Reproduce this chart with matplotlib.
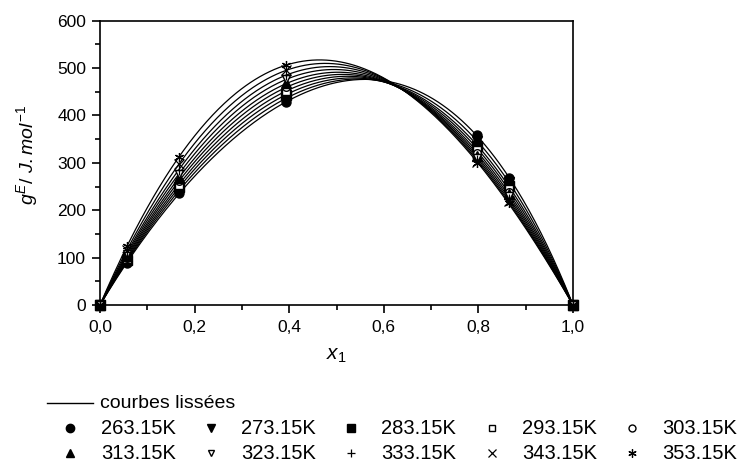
import numpy as np
import matplotlib
matplotlib.use("Agg")
import matplotlib.pyplot as plt
from matplotlib.lines import Line2D
from matplotlib.ticker import MultipleLocator, FuncFormatter

plt.rcParams['font.family'] = ['Liberation Sans', 'DejaVu Sans']
plt.rcParams['mathtext.fontset'] = 'custom'
plt.rcParams['mathtext.rm'] = 'Liberation Sans'
plt.rcParams['mathtext.it'] = 'Liberation Sans:italic'

# Mole fraction of component 1 where g^E was measured
x1 = [0.0, 0.057, 0.167, 0.393, 0.797, 0.865, 1.0]

temperatures = ['263.15K', '273.15K', '283.15K', '293.15K', '303.15K',
                '313.15K', '323.15K', '333.15K', '343.15K', '353.15K']

# Excess Gibbs energy g^E (J/mol) at each temperature
gE_263 = [0, 88, 236, 428, 358, 268, 0]
gE_273 = [0, 91, 242, 436, 346, 259, 0]
gE_283 = [0, 94, 248, 444, 336, 251, 0]
gE_293 = [0, 97, 254, 452, 328, 245, 0]
gE_303 = [0, 100, 261, 460, 321, 239, 0]
gE_313 = [0, 103, 268, 468, 315, 234, 0]
gE_323 = [0, 107, 276, 477, 310, 229, 0]
gE_333 = [0, 111, 285, 486, 306, 224, 0]
gE_343 = [0, 116, 297, 496, 302, 220, 0]
gE_353 = [0, 124, 312, 507, 299, 216, 0]

series = [gE_263, gE_273, gE_283, gE_293, gE_303,
          gE_313, gE_323, gE_333, gE_343, gE_353]

# marker, filled?
styles = [('o', True), ('v', True), ('s', True), ('s', False), ('o', False),
          ('^', True), ('v', False), ('+', True), ('x', True), ((6, 2, 0), True)]


def redlich_kister_fit(x, g, order=3):
    """Least-squares Redlich-Kister fit g = x(1-x) * sum A_k (2x-1)^k."""
    x = np.asarray(x, float)
    g = np.asarray(g, float)
    base = x * (1 - x)
    cols = [base * (2 * x - 1) ** k for k in range(order)]
    A = np.vstack(cols).T
    coef, *_ = np.linalg.lstsq(A, g, rcond=None)
    return coef


def redlich_kister_eval(coef, x):
    return x * (1 - x) * sum(c * (2 * x - 1) ** k for k, c in enumerate(coef))


W, H = 745, 465
fig = plt.figure(figsize=(W / 100, H / 100), dpi=100)
left, right, top, bottom = 100, 573, 20.7, 305
ax = fig.add_axes([left / W, 1 - bottom / H, (right - left) / W, (bottom - top) / H])

xs = np.linspace(0, 1, 400)
for g in series:
    coef = redlich_kister_fit(x1, g)
    ax.plot(xs, redlich_kister_eval(coef, xs), color='black', lw=0.9, zorder=2)


def marker_kw(m, filled, ms):
    kw = dict(marker=m, linestyle='none', markeredgecolor='black',
              markeredgewidth=1.0)
    if m in ('+', 'x') or isinstance(m, tuple):
        kw.update(markersize=ms, markeredgewidth=0.9)
    elif filled:
        kw.update(markerfacecolor='black', markersize=ms)
    else:
        kw.update(markerfacecolor='white', markersize=ms - 1)
    return kw


for g, (m, filled) in zip(series, styles):
    ax.plot(x1, g, clip_on=False, zorder=3, **marker_kw(m, filled, 6.5))

ax.set_xlim(0, 1)
ax.set_ylim(0, 600)
ax.xaxis.set_major_locator(MultipleLocator(0.2))
ax.xaxis.set_minor_locator(MultipleLocator(0.1))
ax.yaxis.set_major_locator(MultipleLocator(100))
ax.yaxis.set_minor_locator(MultipleLocator(50))
ax.xaxis.set_major_formatter(FuncFormatter(lambda v, p: f"{v:.1f}".replace('.', ',')))
ax.tick_params(which='both', direction='out', width=1.2, labelsize=12.5,
               top=False, right=False)
ax.tick_params(axis='y', which='major', length=6, pad=4)
ax.tick_params(axis='x', which='major', length=6, pad=5)
ax.tick_params(which='minor', length=3.5)
for s in ax.spines.values():
    s.set_linewidth(1.2)

ax.set_xlabel(r'$x_1$', fontsize=15)
ax.xaxis.set_label_coords(0.5, -0.145)
ax.set_ylabel(r'$g^E$/ $J.mol^{-1}$', fontsize=14)
ax.yaxis.set_label_coords(-0.127, 0.528)

# Legend block beneath the axes, laid out in pixel positions
def fx(px):
    return px / W


def fy(py):
    return 1 - py / H


fig.add_artist(Line2D([fx(47), fx(93)], [fy(403), fy(403)], color='black', lw=1.0))
fig.text(fx(100), fy(403), 'courbes lissées', fontsize=14, va='center', ha='left')

for i, (lab, (m, filled)) in enumerate(zip(temperatures, styles)):
    row, col = divmod(i, 5)
    yy = fy(428 + 25 * row)
    mx = fx(70 + 140.5 * col)
    tx = fx(101 + 140.25 * col)
    fig.add_artist(Line2D([mx], [yy], **marker_kw(m, filled, 6.0)))
    fig.text(tx, yy, lab, fontsize=14.5, va='center', ha='left')

fig.savefig('out.png', dpi=100)
